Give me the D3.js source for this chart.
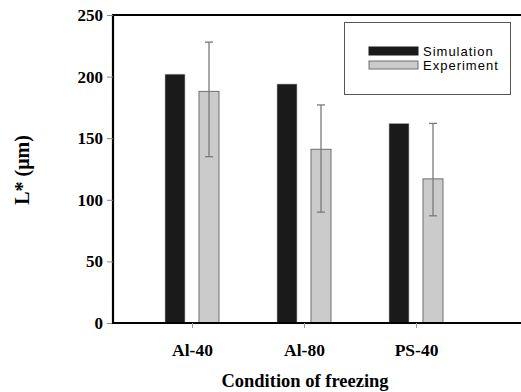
<!DOCTYPE html>
<html>
<head>
	<meta charset="utf-8">
	<title>L* by condition of freezing</title>
	<script src="https://cdn.jsdelivr.net/npm/d3@7/dist/d3.min.js"></script>
	<style>
		body { margin: 0; background: #fff; }
		.tick text { font-family: "Liberation Serif", "Times New Roman", serif; font-weight: bold; }
	</style>
</head>
<body>
	<script>
		// data
		var conditions = ['Al-40', 'Al-80', 'PS-40'];
		var simulation = [202, 194, 162];
		var experiment = [188, 141, 117];
		var errUpper = [228, 177, 162];
		var errLower = [135, 90, 87];
		var yTicks = [0, 50, 100, 150, 200, 250];

		var width = 521, height = 392;
		var plotLeft = 113, plotRight = 521, plotTop = 15, plotBottom = 323;

		var svg = d3.select('body').append('svg')
			.attr('width', width)
			.attr('height', height);

		var y = d3.scaleLinear().domain([0, 250]).range([plotBottom, plotTop]);
		// category centers (tick positions)
		var x = d3.scalePoint().domain(conditions).range([192, 416]);
		var barW = 20, gap = 7;

		// frame: top line
		svg.append('line')
			.attr('x1', plotLeft).attr('x2', plotRight)
			.attr('y1', plotTop).attr('y2', plotTop)
			.attr('stroke', '#000').attr('stroke-width', 2);

		var g = svg.append('g');

		// simulation bars
		g.selectAll('rect.sim')
			.data(conditions)
			.enter()
			.append('rect')
			.attr('class', 'sim')
			.attr('x', function(d) { return x(d) - gap - barW; })
			.attr('y', function(d, i) { return y(simulation[i]); })
			.attr('width', barW)
			.attr('height', function(d, i) { return y(0) - y(simulation[i]); })
			.attr('fill', '#1a1a1a')
			.attr('stroke', '#bbb')
			.attr('stroke-width', 0.6);

		// experiment bars
		g.selectAll('rect.exp')
			.data(conditions)
			.enter()
			.append('rect')
			.attr('class', 'exp')
			.attr('x', function(d) { return x(d) + gap; })
			.attr('y', function(d, i) { return y(experiment[i]); })
			.attr('width', barW)
			.attr('height', function(d, i) { return y(0) - y(experiment[i]); })
			.attr('fill', '#cbcbcb')
			.attr('stroke', '#6f6f6f')
			.attr('stroke-width', 1);

		// error bars
		var eb = g.selectAll('g.err')
			.data(conditions)
			.enter()
			.append('g')
			.attr('class', 'err')
			.attr('stroke', '#7a7a7a')
			.attr('stroke-width', 1.3);
		eb.append('line')
			.attr('x1', function(d) { return x(d) + gap + barW / 2; })
			.attr('x2', function(d) { return x(d) + gap + barW / 2; })
			.attr('y1', function(d, i) { return y(errUpper[i]); })
			.attr('y2', function(d, i) { return y(errLower[i]); });
		eb.append('line')
			.attr('x1', function(d) { return x(d) + gap + barW / 2 - 4; })
			.attr('x2', function(d) { return x(d) + gap + barW / 2 + 4; })
			.attr('y1', function(d, i) { return y(errUpper[i]); })
			.attr('y2', function(d, i) { return y(errUpper[i]); });
		eb.append('line')
			.attr('x1', function(d) { return x(d) + gap + barW / 2 - 4; })
			.attr('x2', function(d) { return x(d) + gap + barW / 2 + 4; })
			.attr('y1', function(d, i) { return y(errLower[i]); })
			.attr('y2', function(d, i) { return y(errLower[i]); });

		// y axis
		var yAxis = svg.append('g')
			.attr('transform', 'translate(' + plotLeft + ',0)')
			.call(d3.axisLeft(y).tickValues(yTicks).tickSize(6).tickPadding(4));
		yAxis.select('.domain').attr('stroke', '#000').attr('stroke-width', 2.2)
			.attr('d', 'M0,' + (plotTop - 1) + 'V' + (plotBottom + 1));
		yAxis.selectAll('.tick line').attr('stroke', '#888');
		yAxis.selectAll('.tick text').attr('font-size', 17).attr('fill', '#000');

		// x axis
		var xAxis = svg.append('g')
			.attr('transform', 'translate(0,' + plotBottom + ')')
			.call(d3.axisBottom(x).tickSize(5).tickPadding(16));
		xAxis.select('.domain').attr('stroke', '#000').attr('stroke-width', 2.2)
			.attr('d', 'M' + (plotLeft - 1) + ',0H' + plotRight);
		xAxis.selectAll('.tick line').attr('stroke', '#999');
		xAxis.selectAll('.tick text').attr('font-size', 17.5).attr('fill', '#000');

		// axis titles
		svg.append('text')
			.attr('x', 305)
			.attr('y', 387)
			.attr('text-anchor', 'middle')
			.attr('font-family', '"Liberation Serif", "Times New Roman", serif')
			.attr('font-weight', 'bold')
			.attr('font-size', 18.5)
			.text('Condition of freezing');

		svg.append('text')
			.attr('transform', 'translate(29,170) rotate(-90)')
			.attr('text-anchor', 'middle')
			.attr('font-family', '"Liberation Serif", "Times New Roman", serif')
			.attr('font-weight', 'bold')
			.attr('font-size', 20)
			.text('L* (\u03bcm)');

		// legend
		var legend = svg.append('g');
		legend.append('rect')
			.attr('x', 344.5).attr('y', 22.5)
			.attr('width', 166).attr('height', 72)
			.attr('fill', '#fff')
			.attr('stroke', '#555')
			.attr('stroke-width', 1);
		var legendItems = [
			{ label: 'Simulation', fill: '#1a1a1a', stroke: '#1a1a1a' },
			{ label: 'Experiment', fill: '#cbcbcb', stroke: '#6f6f6f' }
		];
		var li = legend.selectAll('g.item')
			.data(legendItems)
			.enter()
			.append('g')
			.attr('transform', function(d, i) { return 'translate(369,' + (47 + i * 14) + ')'; });
		li.append('rect')
			.attr('width', 49).attr('height', 8)
			.attr('fill', function(d) { return d.fill; })
			.attr('stroke', function(d) { return d.stroke; });
		li.append('text')
			.attr('x', 54).attr('y', 9)
			.attr('font-family', '"Liberation Sans", Arial, sans-serif')
			.attr('font-size', 13)
			.attr('letter-spacing', 1)
			.text(function(d) { return d.label; });
	</script>
</body>
</html>
